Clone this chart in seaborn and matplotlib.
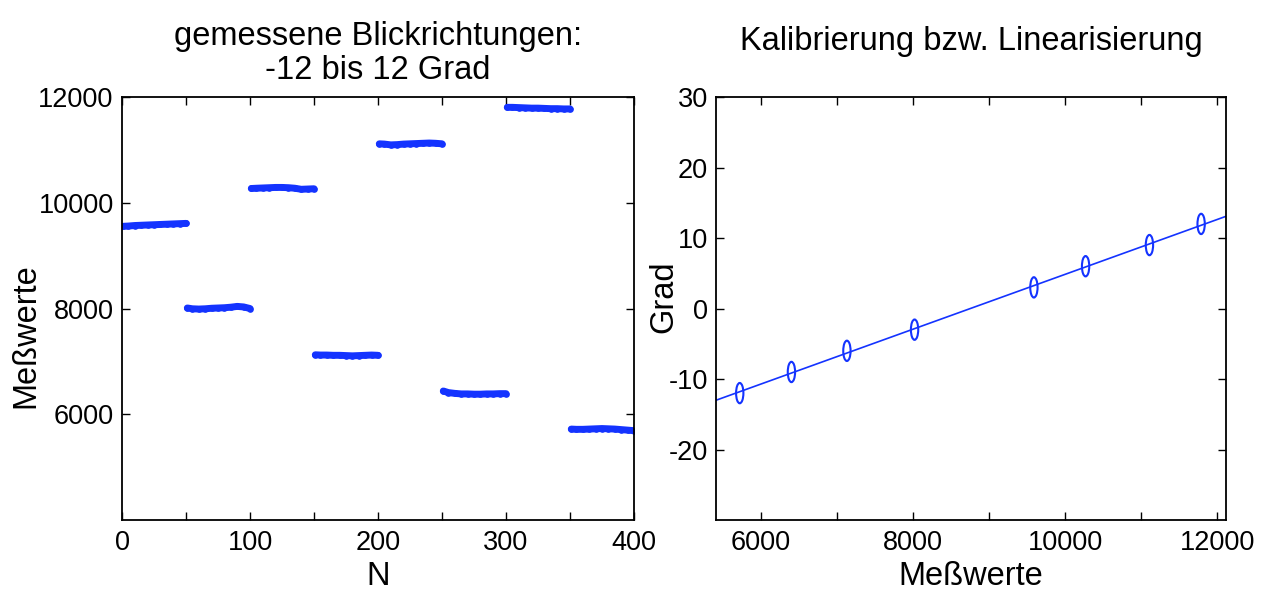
import numpy as np
import pandas as pd
import seaborn as sns
import matplotlib.pyplot as plt
from matplotlib.path import Path
from matplotlib.transforms import Affine2D
from matplotlib.ticker import MultipleLocator

# Abtastpunkte innerhalb jedes 50er-Blocks (Offset zu Blockbeginn)
offsets = [1, 5, 10, 15, 20, 25, 30, 35, 40, 45, 50]

seg1 = [9555, 9560, 9570, 9575, 9580, 9585, 9590, 9595, 9600, 9605, 9610]
seg2 = [8010, 7995, 7990, 7995, 8005, 8010, 8015, 8025, 8040, 8030, 8000]
seg3 = [10270, 10275, 10280, 10285, 10290, 10290, 10285, 10275, 10255, 10260, 10265]
seg4 = [7125, 7120, 7120, 7115, 7115, 7110, 7105, 7110, 7115, 7120, 7115]
seg5 = [11115, 11110, 11095, 11100, 11110, 11115, 11120, 11125, 11130, 11125, 11115]
seg6 = [6440, 6410, 6395, 6385, 6385, 6380, 6380, 6385, 6385, 6390, 6390]
seg7 = [11805, 11805, 11800, 11795, 11790, 11790, 11785, 11780, 11780, 11775, 11775]
seg8 = [5720, 5715, 5715, 5720, 5725, 5730, 5725, 5720, 5710, 5700, 5690]
segmente = [seg1, seg2, seg3, seg4, seg5, seg6, seg7, seg8]

# Kalibrierung: Mittelwerte je Block und zugehoerige Blickrichtung
kal_messwerte = [5720, 6400, 7130, 8020, 9590, 10270, 11110, 11790]
kal_grad = [-12, -9, -6, -3, 3, 6, 9, 12]

blau = '#1433ff'

sns.set_theme(style='white')
plt.rcParams['font.family'] = ['Liberation Sans', 'DejaVu Sans']
plt.rcParams['axes.unicode_minus'] = False
for key in ('text.color', 'axes.labelcolor', 'xtick.color', 'ytick.color'):
    plt.rcParams[key] = 'black'

# Long-Format fuer den linken Plot
zeilen = []
for k, seg in enumerate(segmente):
    for off, wert in zip(offsets, seg):
        zeilen.append({'N': 50 * k + off, 'Messwert': wert, 'Block': k})
df = pd.DataFrame(zeilen)

fig = plt.figure(figsize=(12.7, 5.92), dpi=100)
ax1 = fig.add_axes([0.0961, 0.1216, 0.4031, 0.7145])
ax2 = fig.add_axes([0.5638, 0.1216, 0.4016, 0.7145])

# --- links: Rohdaten
sns.lineplot(data=df, x='N', y='Messwert', units='Block', estimator=None,
             color=blau, linewidth=5.0, marker='o', markersize=4.8,
             markeredgewidth=0, solid_capstyle='round', ax=ax1)
ax1.set_xlim(0, 400)
ax1.set_ylim(4000, 12000)
ax1.set_xticks([0, 100, 200, 300, 400])
ax1.xaxis.set_minor_locator(MultipleLocator(50))
ax1.set_yticks([6000, 8000, 10000, 12000])
ax1.set_xlabel('N', fontsize=23.5)
ax1.set_ylabel('Meßwerte', fontsize=23.5)
ax1.set_title('gemessene Blickrichtungen:\n-12 bis 12 Grad', fontsize=23.5, pad=13,
              linespacing=1.12)
ax1.yaxis.set_label_coords(-0.158, 0.435)
ax1.xaxis.set_label_coords(0.5, -0.097)

# --- rechts: Kalibrierung
ax2.set_xlim(5408, 12118)
ax2.set_ylim(-30, 30)
sns.regplot(x=kal_messwerte, y=kal_grad, scatter=False, ci=None, truncate=False,
            color=blau, line_kws={'linewidth': 1.2}, ax=ax2)
ellipse = Path.unit_circle().transformed(Affine2D().scale(0.36, 1.0))
ax2.scatter(kal_messwerte, kal_grad, marker=ellipse, s=215,
            facecolors='none', edgecolors=blau, linewidths=1.5, zorder=3)
ax2.set_xticks([6000, 8000, 10000, 12000])
ax2.xaxis.set_minor_locator(MultipleLocator(1000))
ax2.set_yticks([-20, -10, 0, 10, 20, 30])
ax2.set_xlabel('Meßwerte', fontsize=23.5)
ax2.set_ylabel('Grad', fontsize=23.5)
ax2.set_title('Kalibrierung bzw. Linearisierung', fontsize=23.5, pad=34)
ax2.yaxis.set_label_coords(-0.072, 0.527)
ax2.xaxis.set_label_coords(0.5, -0.097)

for ax in (ax1, ax2):
    ax.tick_params(which='both', direction='in', top=True, right=True,
                   bottom=True, left=True, length=6, width=1, color='black',
                   labelsize=19.5)
    ax.tick_params(axis='y', pad=6)
    ax.tick_params(axis='x', pad=7)
    for sp in ax.spines.values():
        sp.set_color('black')
        sp.set_linewidth(1.3)

fig.savefig('out.png', dpi=100)
